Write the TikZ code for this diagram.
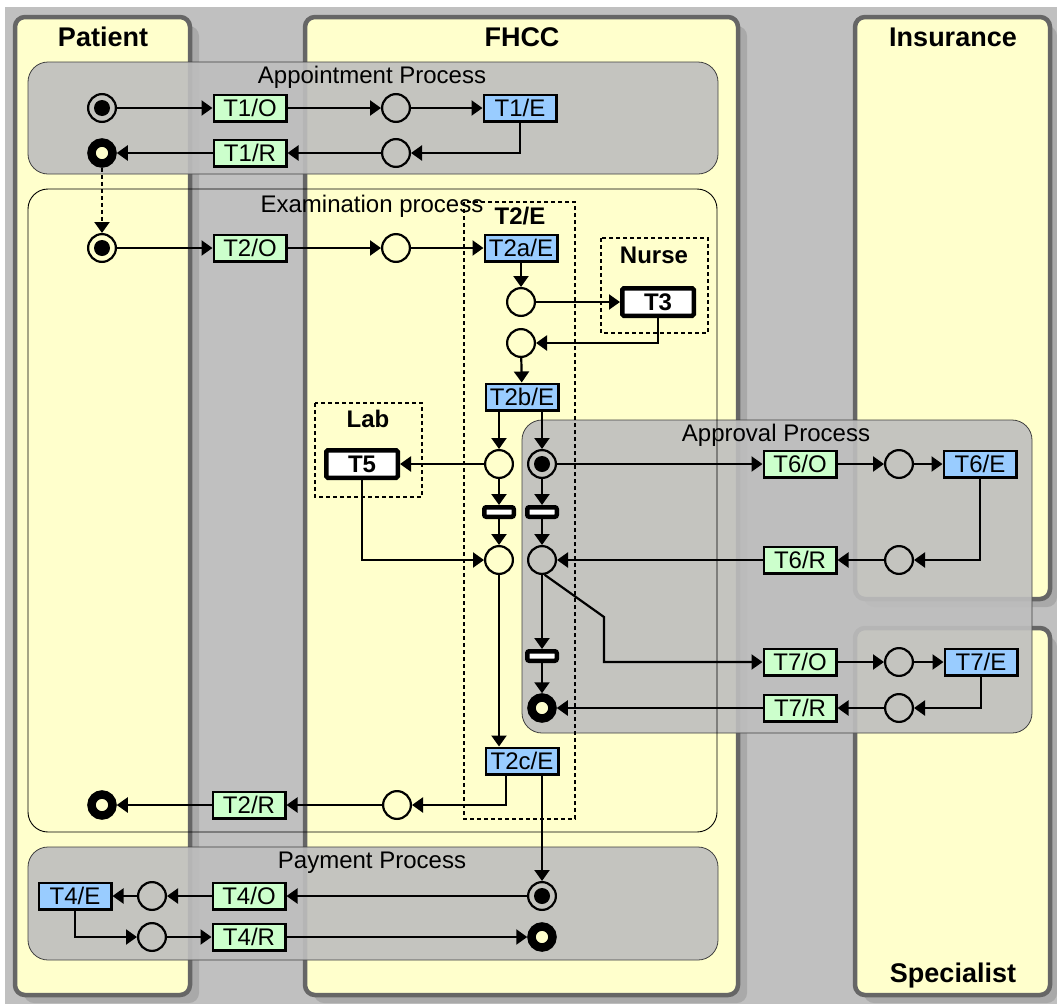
\documentclass[tikz,border=0pt]{standalone}
\usepackage{fontspec}
\setmainfont{Liberation Sans}
\usetikzlibrary{arrows.meta,calc}
\definecolor{bgc}{HTML}{C0C0C0}
\definecolor{lanefill}{HTML}{FFFFCC}
\definecolor{laneborder}{HTML}{666666}
\definecolor{shadowc}{HTML}{A9A9A9}
\definecolor{procfill}{HTML}{BEBEBE}
\definecolor{tgreen}{HTML}{CCFFCC}
\definecolor{tblue}{HTML}{99CCFF}
\newcommand{\boxfont}{\fontsize{24}{26}\selectfont}
\newcommand{\titlefont}{\fontsize{27}{30}\selectfont\bfseries}
\newcommand{\procfont}{\fontsize{24}{28}\selectfont}
\begin{document}
\begin{tikzpicture}[x=1pt,y=-1pt,
  lane/.style={draw=laneborder,line width=4.5pt,fill=lanefill,rounded corners=10pt},
  laneshadow/.style={fill=shadowc,rounded corners=10pt},
  proc/.style={draw=black!75,line width=0.8pt,fill=procfill,fill opacity=0.9,rounded corners=20pt},
  exambox/.style={draw=black,line width=0.9pt,rounded corners=20pt},
  dbox/.style={draw=black,line width=1.8pt,dash pattern=on 4pt off 3pt},
  tbox/.style={draw=black,line width=2.4pt,minimum width=72.6pt,minimum height=26.6pt,inner sep=0pt,font=\boxfont},
  obox/.style={tbox,fill=tgreen},
  ebox/.style={tbox,fill=tblue},
  actor/.style={draw=black,line width=4.5pt,minimum width=71.5pt,minimum height=27.5pt,inner sep=0pt,fill=white,rounded corners=1.5pt,font=\boxfont\bfseries},
  plc/.style={circle,draw=black,line width=2.2pt,minimum size=27.8pt,inner sep=0pt},
  startp/.style={plc},
  endp/.style={circle,draw=black,line width=8.5pt,minimum size=21pt,inner sep=0pt,fill=lanefill},
  tbar/.style={draw=black,line width=4.5pt,fill=white,minimum width=29.5pt,minimum height=9.5pt,inner sep=0pt,rounded corners=2pt},
  flow/.style={line width=2.2pt,-{Triangle[length=11pt,width=15pt]}},
  lanetitle/.style={font=\titlefont,anchor=base,inner sep=0pt},
  plabel/.style={font=\procfont,anchor=base,inner sep=0pt},
  glabel/.style={font=\boxfont\bfseries,anchor=base,inner sep=0pt},
]
\useasboundingbox (0,0) rectangle (1057,1004);
% background
\fill[white] (0,0) rectangle (1057,1004);
\fill[bgc] (5,7) rectangle (1057,1004);
% lane shadows
\fill[laneshadow] (24,26) rectangle (199,1003);
\fill[laneshadow] (314,26) rectangle (747,1003);
\fill[laneshadow] (864,26) rectangle (1057,607);
\fill[laneshadow] (864,637) rectangle (1057,1003);
% lanes
\draw[lane] (15,17) rectangle (190,995);
\draw[lane] (305,17) rectangle (738,995);
\draw[lane] (855,17) rectangle (1050,599);
\draw[lane] (855,628) rectangle (1050,995);
\node[lanetitle] (tpatient) at (103,46) {Patient};
\node[lanetitle] (tfhcc) at (522,46) {FHCC};
\node[lanetitle] (tins) at (953,46) {Insurance};
\node[lanetitle] (tspec) at (953,982) {Specialist};
% process boxes
\draw[proc] (28,62) rectangle (718,174);
\draw[proc] (28,847) rectangle (718,960);
\draw[proc] (522,420) rectangle (1032,733);
\draw[exambox] (28,189) rectangle (717,832);
\node[plabel] (lappt) at (372,83) {Appointment Process};
\node[plabel] (lexam) at (372,212) {Examination process};
\node[plabel] (lpay) at (372,868) {Payment Process};
\node[plabel] (lappr) at (776,441) {Approval Process};
% dashed groups
\draw[dbox] (464,202) rectangle (575,819);
\draw[dbox] (601,238) rectangle (708,333);
\draw[dbox] (315,403) rectangle (422,497);
\node[glabel] (lt2e) at (520,224) {T2/E};
\node[glabel] (lnurse) at (654,263) {Nurse};
\node[glabel] (llab) at (368,427) {Lab};
% appointment
\node[startp] (s1) at (102,108) {};
\node[obox] (t1o) at (250,108) {T1/O};
\node[plc] (p1) at (396,108) {};
\node[ebox] (t1e) at (520,108) {T1/E};
\node[endp] (e1) at (102,153) {};
\node[obox] (t1r) at (250,153) {T1/R};
\node[plc] (p1b) at (396,153) {};
% examination
\node[startp] (s2) at (102,248) {};
\node[obox] (t2o) at (250,248) {T2/O};
\node[plc] (p2) at (396,248) {};
\node[ebox] (t2ae) at (521,248) {T2a/E};
\node[plc] (p3) at (521,302) {};
\node[actor] (t3) at (658,302) {T3};
\node[plc] (p4) at (521,343) {};
\node[ebox] (t2be) at (522,397) {T2b/E};
\node[plc] (p5) at (499,464) {};
\node[startp] (s6) at (542,464) {};
\node[actor] (t5) at (362,464) {T5};
\node[tbar] (bar1) at (499,512) {};
\node[tbar] (bar2) at (542,512) {};
\node[plc] (p7) at (499,560) {};
\node[plc] (p8) at (542,560) {};
\node[obox] (t6o) at (800,464) {T6/O};
\node[plc] (p9) at (899,464) {};
\node[ebox] (t6e) at (980,464) {T6/E};
\node[plc] (p10) at (899,560) {};
\node[obox] (t6r) at (800,560) {T6/R};
\node[tbar] (bar3) at (542,656) {};
\node[endp] (e3) at (542,708) {};
\coordinate (k1) at (604,617);
\node[obox] (t7o) at (800,662) {T7/O};
\node[plc] (p11) at (899,662) {};
\node[ebox] (t7e) at (981,662) {T7/E};
\node[plc] (p12) at (899,708) {};
\node[obox] (t7r) at (800,708) {T7/R};
\node[ebox] (t2ce) at (522,761) {T2c/E};
\node[plc] (p13) at (397,805) {};
\node[obox] (t2r) at (249,805) {T2/R};
\node[endp] (e2) at (102,805) {};
% payment
\node[startp] (s14) at (542,896) {};
\node[obox] (t4o) at (249,896) {T4/O};
\node[plc] (p15) at (152,896) {};
\node[ebox] (t4e) at (75,896) {T4/E};
\node[plc] (p16) at (152,937) {};
\node[obox] (t4r) at (249,937) {T4/R};
\node[endp] (e4) at (542,937) {};
% tokens
\foreach \s in {s1,s2,s6,s14} \fill (\s) circle (8pt);
% connectors
\draw[flow] (s1) -- (t1o);
\draw[flow] (t1o) -- (p1);
\draw[flow] (p1) -- (t1e);
\draw[flow] (t1e.south) |- (p1b);
\draw[flow] (p1b) -- (t1r);
\draw[flow] (t1r) -- (e1);
\draw[flow,dash pattern=on 4pt off 3pt] (e1) -- (s2);
\draw[flow] (s2) -- (t2o);
\draw[flow] (t2o) -- (p2);
\draw[flow] (p2) -- (t2ae);
\draw[flow] (t2ae) -- (p3);
\draw[flow] (p3) -- (t3);
\draw[flow] (t3.south) |- (p4);
\draw[flow] (p4) -- (t2be);
\draw[flow] (t2be.south -| p5) -- (p5);
\draw[flow] (t2be.south -| s6) -- (s6);
\draw[flow] (p5) -- (t5);
\draw[flow] (t5.south) |- (p7);
\draw[flow] (p5) -- (bar1);
\draw[flow] (bar1) -- (p7);
\draw[flow] (s6) -- (bar2);
\draw[flow] (bar2) -- (p8);
\draw[flow] (p7) -- (t2ce.north -| p7);
\draw[flow] (s6) -- (t6o);
\draw[flow] (t6o) -- (p9);
\draw[flow] (p9) -- (t6e);
\draw[flow] (t6e.south) |- (p10);
\draw[flow] (p10) -- (t6r);
\draw[flow] (t6r) -- (p8);
\draw[flow] (p8) -- (bar3);
\draw[flow] (bar3) -- (e3);
\draw[flow] (p8.-80) -- (k1) |- (t7o);
\draw[flow] (t7o) -- (p11);
\draw[flow] (p11) -- (t7e);
\draw[flow] (t7e.south) |- (p12);
\draw[flow] (p12) -- (t7r);
\draw[flow] (t7r) -- (e3);
\draw[flow] ($(t2ce.south)+(-16,0)$) |- (p13);
\draw[flow] (p13) -- (t2r);
\draw[flow] (t2r) -- (e2);
\draw[flow] (t2ce.south -| s14) -- (s14);
\draw[flow] (s14) -- (t4o);
\draw[flow] (t4o) -- (p15);
\draw[flow] (p15) -- (t4e);
\draw[flow] (t4e.south) |- (p16);
\draw[flow] (p16) -- (t4r);
\draw[flow] (t4r) -- (e4);
\end{tikzpicture}
\end{document}
